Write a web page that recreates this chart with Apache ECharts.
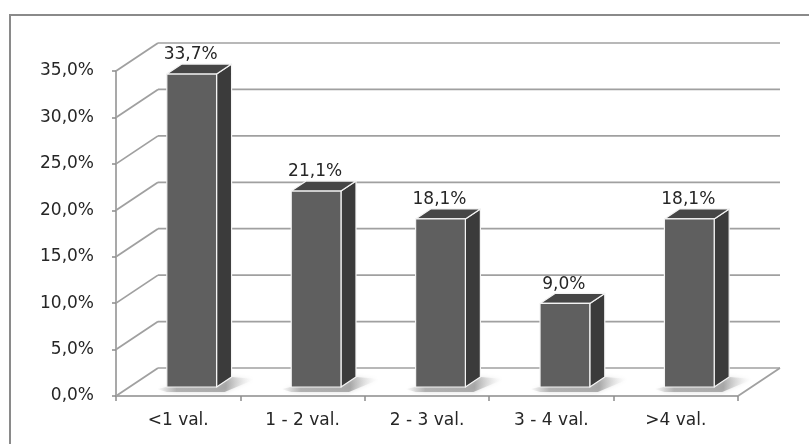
<!DOCTYPE html>
<html>
<head>
<meta charset="utf-8">
<script src="https://cdn.jsdelivr.net/npm/echarts@6/dist/echarts.min.js"></script>
<style>
  html, body { margin: 0; padding: 0; background: #fff; }
  #chart { width: 809px; height: 444px; }
</style>
</head>
<body>
<div id="chart"></div>
<script>
const categories = ['<1 val.', '1 - 2 val.', '2 - 3 val.', '3 - 4 val.', '>4 val.'];
const shares = [33.7, 21.1, 18.1, 9.0, 18.1];
const yTicks = [0, 5, 10, 15, 20, 25, 30, 35];

const fmt = v => v.toFixed(1).replace('.', ',') + '%';

// Oblique projection: depth of the plot box and of each bar, in pixels
const BOX_DX = 42, BOX_DY = -28;
const BAR_OX = 13.5, BAR_OY = -9, BAR_DX = 15, BAR_DY = -10;
const BAR_WIDTH_RATIO = 0.4;
const FONT = '"DejaVu Sans", Verdana, sans-serif';

const chart = echarts.init(document.getElementById('chart'), null, { renderer: 'canvas' });

// Left wall diagonals, back wall gridlines and the right floor edge
function renderWalls(params, api) {
  const bw = api.size([1, 0])[0];
  const x0 = api.coord([0, 0])[0] - bw / 2;
  const x1 = api.coord([categories.length - 1, 0])[0] + bw / 2;
  const yFloor = api.coord([0, 0])[1];
  const line = { stroke: '#a0a0a0', lineWidth: 1.7 };
  const children = [];
  yTicks.forEach(t => {
    const y = api.coord([0, t])[1];
    children.push({ type: 'line', shape: { x1: x0, y1: y, x2: x0 + BOX_DX, y2: y + BOX_DY }, style: line });
    children.push({ type: 'line', shape: { x1: x0 + BOX_DX, y1: y + BOX_DY, x2: x1 + BOX_DX, y2: y + BOX_DY }, style: line });
  });
  children.push({ type: 'line', shape: { x1: x1, y1: yFloor, x2: x1 + BOX_DX, y2: yFloor + BOX_DY }, style: line });
  return { type: 'group', children };
}

// One 3D column: floor shadow, side, top, front and the value label
function renderBar(params, api) {
  const i = api.value(0), v = api.value(1);
  const bw = api.size([1, 0])[0];
  const w = bw * BAR_WIDTH_RATIO;
  const base = api.coord([i, 0]);
  const top = api.coord([i, v]);
  const l = base[0] - w / 2 + BAR_OX, r = l + w;
  const yb = base[1] + BAR_OY, yt = top[1] + BAR_OY;
  const edge = { stroke: '#f4f4f4', lineWidth: 1.2, lineJoin: 'round' };
  return {
    type: 'group',
    children: [
      {
        type: 'polygon',
        shape: {
          points: [
            [l - 10, yb + 2], [l, yb + 5], [r + 8, yb + 5],
            [r + BAR_DX + 24, yb + BAR_DY + 2], [r + BAR_DX, yb + BAR_DY], [r, yb], [l, yb]
          ]
        },
        style: {
          fill: new echarts.graphic.LinearGradient(0, 0, 1, 0, [
            { offset: 0, color: 'rgba(150,150,150,0)' },
            { offset: 0.2, color: 'rgba(140,140,140,0.6)' },
            { offset: 0.7, color: 'rgba(130,130,130,0.6)' },
            { offset: 1, color: 'rgba(255,255,255,0)' }
          ]),
          shadowBlur: 4,
          shadowColor: 'rgba(160,160,160,0.6)'
        }
      },
      {
        type: 'polygon',
        shape: { points: [[r, yt], [r + BAR_DX, yt + BAR_DY], [r + BAR_DX, yb + BAR_DY], [r, yb]] },
        style: Object.assign({ fill: '#3b3b3b' }, edge)
      },
      {
        type: 'polygon',
        shape: { points: [[l, yt], [l + BAR_DX, yt + BAR_DY], [r + BAR_DX, yt + BAR_DY], [r, yt]] },
        style: Object.assign({ fill: '#464646' }, edge)
      },
      {
        type: 'rect',
        shape: { x: l, y: yt, width: w, height: yb - yt },
        style: Object.assign({ fill: '#5f5f5f' }, edge)
      },
      {
        type: 'text',
        style: {
          text: fmt(v),
          x: (l + r) / 2 - 1,
          y: yt + BAR_DY - 9,
          align: 'center',
          verticalAlign: 'middle',
          font: '17px ' + FONT,
          fill: '#262626'
        }
      }
    ]
  };
}

const axisGray = '#8c8c8c';

chart.setOption({
  animation: false,
  backgroundColor: '#ffffff',
  graphic: [{
    type: 'rect',
    shape: { x: 10, y: 15, width: 840, height: 480 },
    style: { fill: 'none', stroke: '#8a8a8a', lineWidth: 2 },
    silent: true
  }],
  grid: { left: 116, right: 71, top: 71, bottom: 48 },
  xAxis: {
    type: 'category',
    data: categories,
    axisLine: { lineStyle: { color: axisGray, width: 1.5 } },
    axisTick: { show: true, length: 5, lineStyle: { color: axisGray, width: 1.5 } },
    axisLabel: { fontFamily: FONT, fontSize: 17, color: '#262626', margin: 16 },
    splitLine: { show: false }
  },
  yAxis: {
    type: 'value',
    min: 0,
    max: 35,
    interval: 5,
    axisLine: { show: true, lineStyle: { color: axisGray, width: 1.5 } },
    axisTick: { show: true, length: 4, lineStyle: { color: axisGray, width: 1.5 } },
    axisLabel: { formatter: v => fmt(v), fontFamily: FONT, fontSize: 17, color: '#262626', margin: 22 },
    splitLine: { show: false }
  },
  series: [
    {
      type: 'custom',
      name: 'walls',
      renderItem: renderWalls,
      data: [[0, 0]],
      silent: true,
      z: 1
    },
    {
      type: 'custom',
      name: 'shares',
      renderItem: renderBar,
      data: shares.map((v, i) => [i, v]),
      z: 2
    }
  ]
});
</script>
</body>
</html>
